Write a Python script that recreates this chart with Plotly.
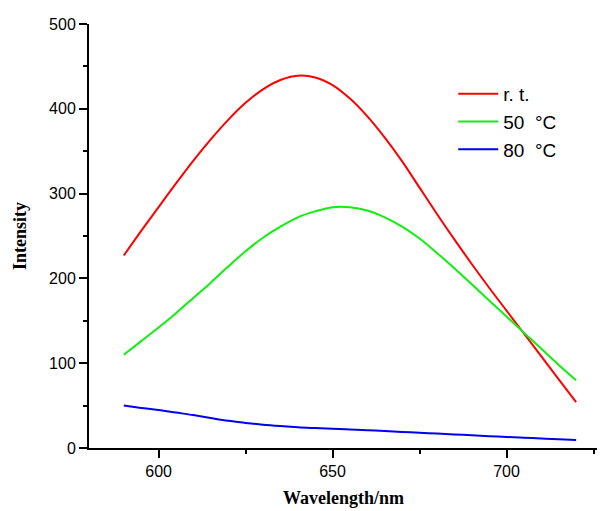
import plotly.graph_objects as go

wavelength = [590, 595, 600, 605, 610, 615, 620, 625, 630, 635, 640, 645, 650, 655,
              660, 665, 670, 675, 680, 685, 690, 695, 700, 705, 710, 715, 720]
rt_values = [227, 256, 284, 312, 339, 364, 387, 407, 423, 434, 439, 437, 428, 412,
             391, 366, 338, 307, 276, 246, 217, 189, 162, 135, 108, 81, 54]
t50_values = [110, 126, 142, 159, 177, 195, 214, 232, 248, 261, 272, 279, 284, 284,
              280, 272, 261, 247, 230, 212, 193, 174, 155, 136, 117, 98, 80]
t80_values = [50, 47.3, 44.8, 41.8, 38.8, 35.3, 32, 29.6, 27.5, 25.9, 24.5, 23.5, 22.6, 21.8,
              21, 20, 19, 18, 17, 16, 15, 14, 13, 12.1, 11.2, 10.3, 9.5]

series_names = ["r. t.", "50  °C", "80  °C"]
series_colors = ["#FF0000", "#11EE11", "#0000EE"]
series_values = [rt_values, t50_values, t80_values]

x_ticks = [600, 650, 700]
y_ticks = [0, 100, 200, 300, 400, 500]

fig = go.Figure()
for name, color, vals in zip(series_names, series_colors, series_values):
    fig.add_trace(go.Scatter(
        x=wavelength, y=vals, name=name, mode="lines",
        line=dict(color=color, width=2, shape="spline", smoothing=1.0),
    ))

axis_common = dict(
    showline=True, linecolor="black", linewidth=2,
    ticks="outside", tickcolor="black", tickwidth=2, ticklen=8,
    showgrid=False, zeroline=False, mirror=False, automargin=False,
    tickfont=dict(family="Liberation Sans, Arial", size=16, color="black"),
)

fig.update_xaxes(
    range=[580, 726], tickvals=x_ticks,
    minor=dict(ticks="outside", tickvals=[625, 675, 725], ticklen=4, tickwidth=2, tickcolor="black"),
    **axis_common,
)
fig.update_yaxes(
    range=[0, 500], tickvals=y_ticks,
    minor=dict(ticks="outside", tickvals=[50, 150, 250, 350, 450], ticklen=4, tickwidth=2, tickcolor="black"),
    **axis_common,
)

title_font = dict(family="Liberation Serif, Times New Roman", size=18, color="black")
fig.add_annotation(text="<b>Wavelength/nm</b>", xref="paper", yref="paper",
                   x=0.5, y=-0.118, xanchor="center", yanchor="middle",
                   showarrow=False, font=title_font)
fig.add_annotation(text="<b>Intensity</b>", xref="paper", yref="paper",
                   x=-0.136, y=0.5, xanchor="center", yanchor="middle",
                   textangle=-90, showarrow=False, font=title_font)

fig.update_layout(
    width=605, height=511,
    margin=dict(l=89, r=8, t=24, b=63),
    paper_bgcolor="white", plot_bgcolor="white",
    showlegend=True,
    legend=dict(
        x=0.717, y=0.88, xanchor="left", yanchor="top",
        bgcolor="rgba(0,0,0,0)", borderwidth=0,
        font=dict(family="Liberation Sans, Arial", size=19, color="black"),
        tracegroupgap=0, itemwidth=40,
    ),
)

fig.write_html("out.html", config={"displayModeBar": False},
               post_script="document.body.style.margin='0';document.body.style.overflow='hidden';")
